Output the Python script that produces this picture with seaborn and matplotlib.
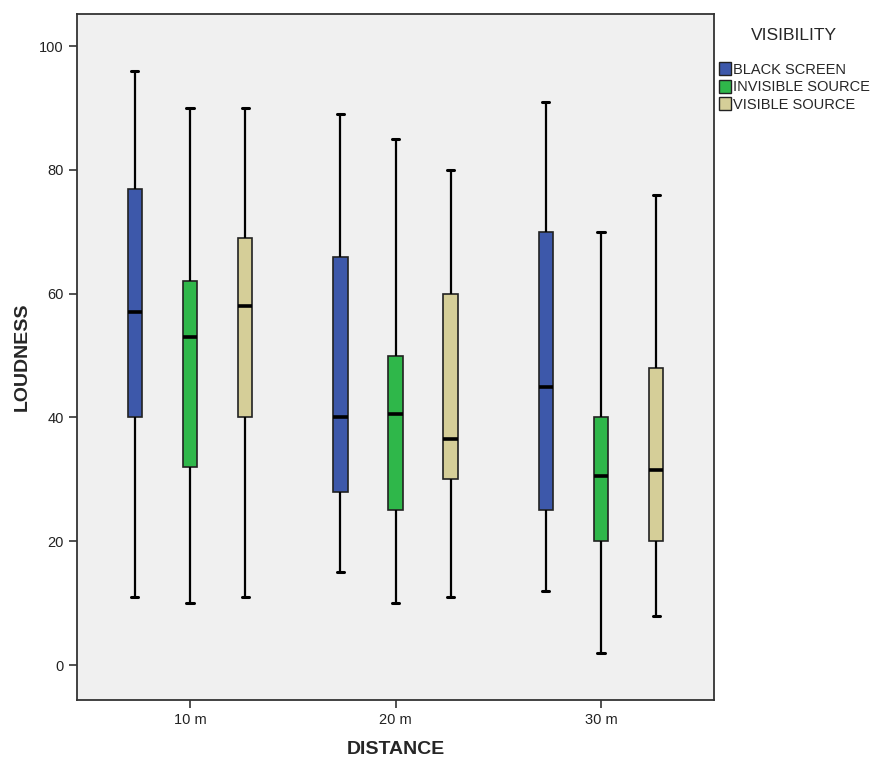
import numpy as np
import pandas as pd
import matplotlib
matplotlib.use("Agg")
import matplotlib.pyplot as plt
import seaborn as sns
from matplotlib.patches import Patch

distances = ["10 m", "20 m", "30 m"]
visibility = ["BLACK SCREEN", "INVISIBLE SOURCE", "VISIBLE SOURCE"]

# five-number summaries per (distance, visibility): min, Q1, median, Q3, max
black_screen = [[11, 40, 57, 77, 96], [15, 28, 40, 66, 89], [12, 25, 45, 70, 91]]
invisible_source = [[10, 32, 53, 62, 90], [10, 25, 40.5, 50, 85], [2, 20, 30.5, 40, 70]]
visible_source = [[11, 40, 58, 69, 90], [11, 30, 36.5, 60, 80], [8, 20, 31.5, 48, 76]]

colors = ["#3D58AA", "#2FB74A", "#D5CE98"]

rows = []
for vis, series in zip(visibility, [black_screen, invisible_source, visible_source]):
    for dist, vals in zip(distances, series):
        for v in vals:
            rows.append({"DISTANCE": dist, "VISIBILITY": vis, "LOUDNESS": v})
df = pd.DataFrame(rows)

sns.set_style("white")
plt.rcParams["font.family"] = ["Liberation Sans", "DejaVu Sans"]

fig = plt.figure(figsize=(8.82, 7.62), dpi=100)
ax = fig.add_axes([77/882, 1-700/762, (714-77)/882, (700-14)/762])
ax.set_facecolor("#F0F0F0")

sns.boxplot(data=df, x="DISTANCE", y="LOUDNESS", hue="VISIBILITY",
            order=distances, hue_order=visibility, palette=colors,
            whis=np.inf, width=0.805, gap=0.74, linewidth=1.2,
            linecolor="#222222", saturation=1,
            medianprops=dict(color="black", linewidth=2.6),
            whiskerprops=dict(color="black", linewidth=1.6),
            capprops=dict(color="black", linewidth=2.2),
            legend=False, ax=ax)

ax.set_xlim(-0.55, 2.55)
ax.set_ylim(-5.65, 105.2)
ax.set_yticks([0, 20, 40, 60, 80, 100])
for s in ax.spines.values():
    s.set_color("#333333")
    s.set_linewidth(1.3)
ax.tick_params(axis="both", direction="out", length=6, width=1.2, color="#333333",
               labelsize=10.5, labelcolor="#222222", left=True, bottom=True)
ax.set_xlabel("DISTANCE", fontsize=14, fontweight="bold", labelpad=10)
ax.set_ylabel("LOUDNESS", fontsize=14, fontweight="bold", labelpad=6)

handles = [Patch(facecolor=c, edgecolor="#222222", linewidth=1) for c in colors]
leg = fig.legend(handles, visibility, title="VISIBILITY", loc="upper left",
                 bbox_to_anchor=(713/882, 1-22/762), frameon=False,
                 fontsize=10.5, title_fontsize=12.5, handlelength=0.8,
                 handleheight=1.0, handletextpad=0.15, labelspacing=0.2,
                 borderaxespad=0)
leg._legend_box.align = "center"
leg._legend_box.sep = 14

fig.savefig("out.png", dpi=100)
